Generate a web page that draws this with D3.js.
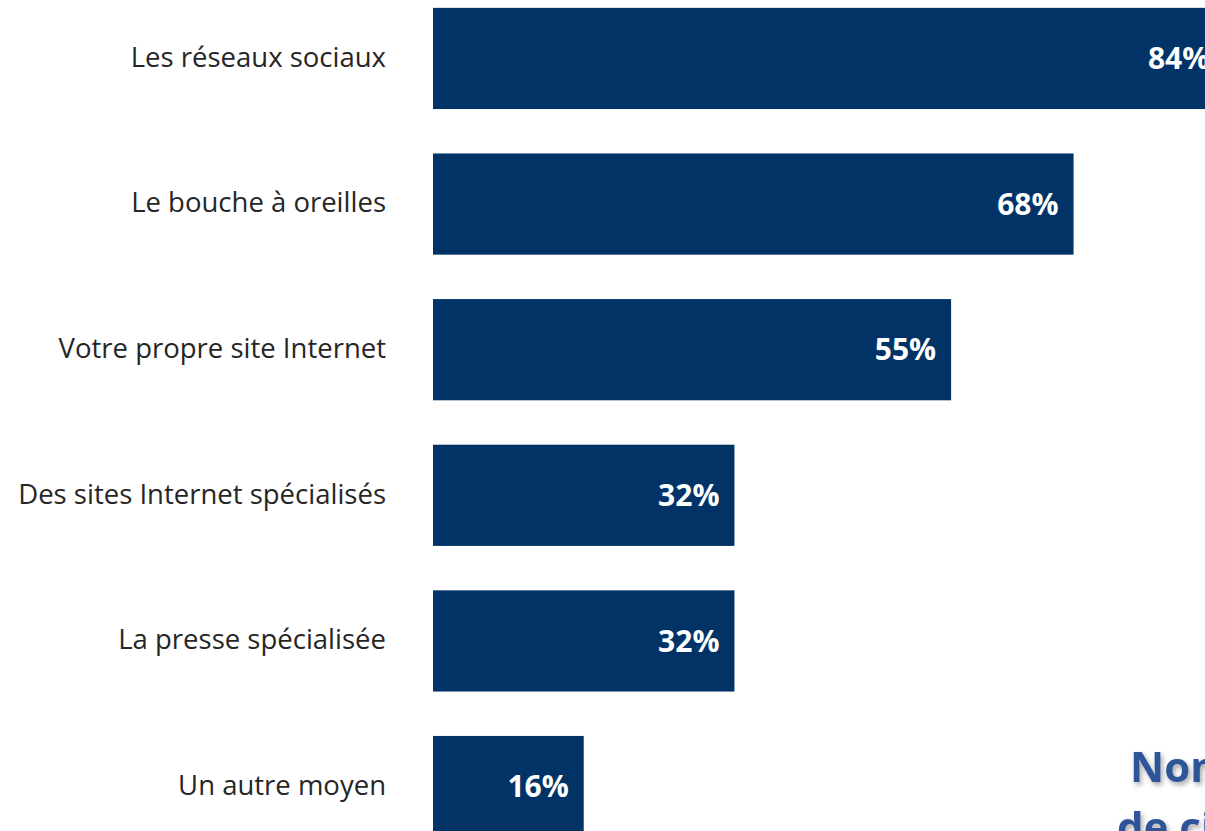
<!DOCTYPE html>
<html lang="fr">
<head>
<meta charset="UTF-8">
<title>Moyens de communication</title>
<script src="https://cdnjs.cloudflare.com/ajax/libs/d3/7.8.5/d3.min.js"></script>
<style>
  body { margin: 0; background: #fff; overflow: hidden; }
  svg { display: block; }
  .cat { font-family: "Open Sans", sans-serif; font-size: 27.5px; fill: #262626; }
  .val { font-family: "Open Sans", sans-serif; font-size: 30px; font-weight: bold; fill: #fff; }
  .note { font-family: "Open Sans", sans-serif; font-size: 42px; font-weight: bold; fill: #2f5597; }
</style>
</head>
<body>
<script>
  // categories and percentages
  const categories = [
    "Les réseaux sociaux",
    "Le bouche à oreilles",
    "Votre propre site Internet",
    "Des sites Internet spécialisés",
    "La presse spécialisée",
    "Un autre moyen"
  ];
  const values = [84, 68, 55, 32, 32, 16];

  const width = 1205, height = 831;

  const svg = d3.select("body").append("svg")
    .attr("width", width)
    .attr("height", height);

  const defs = svg.append("defs");
  const f = defs.append("filter").attr("id", "shadow")
    .attr("x", "-10%").attr("y", "-10%").attr("width", "130%").attr("height", "140%");
  f.append("feDropShadow").attr("dx", 2).attr("dy", 3).attr("stdDeviation", 2.5)
    .attr("flood-color", "#000").attr("flood-opacity", 0.35);

  const x = d3.scaleLinear().domain([0, 100]).range([433, 433 + 942]);

  const y = d3.scaleBand()
    .domain(categories)
    .range([-14, 859])
    .paddingInner(0.305)
    .paddingOuter(0.15);

  const rows = categories.map((c, i) => ({ cat: c, val: values[i] }));

  svg.selectAll("rect.bar")
    .data(rows)
    .enter().append("rect")
    .attr("class", "bar")
    .attr("x", x(0))
    .attr("y", d => y(d.cat))
    .attr("width", d => x(d.val) - x(0))
    .attr("height", y.bandwidth())
    .attr("fill", "#013366");

  // category labels on the left
  svg.selectAll("text.cat")
    .data(rows)
    .enter().append("text")
    .attr("class", "cat")
    .attr("x", 386)
    .attr("y", d => y(d.cat) + y.bandwidth() / 2)
    .attr("dy", "0.3em")
    .attr("text-anchor", "end")
    .text(d => d.cat);

  // values inside the bars
  svg.selectAll("text.val")
    .data(rows)
    .enter().append("text")
    .attr("class", "val")
    .attr("x", d => x(d.val) - 15)
    .attr("y", d => y(d.cat) + y.bandwidth() / 2)
    .attr("dy", "0.36em")
    .attr("text-anchor", "end")
    .text(d => d.val + "%");

  // note cut off at the bottom right, as in the source
  const note = svg.append("text")
    .attr("class", "note")
    .attr("filter", "url(#shadow)");
  note.append("tspan").attr("x", 1130).attr("y", 782).text("Nombre");
  note.append("tspan").attr("x", 1117).attr("y", 842).text("de citations");
</script>
</body>
</html>
